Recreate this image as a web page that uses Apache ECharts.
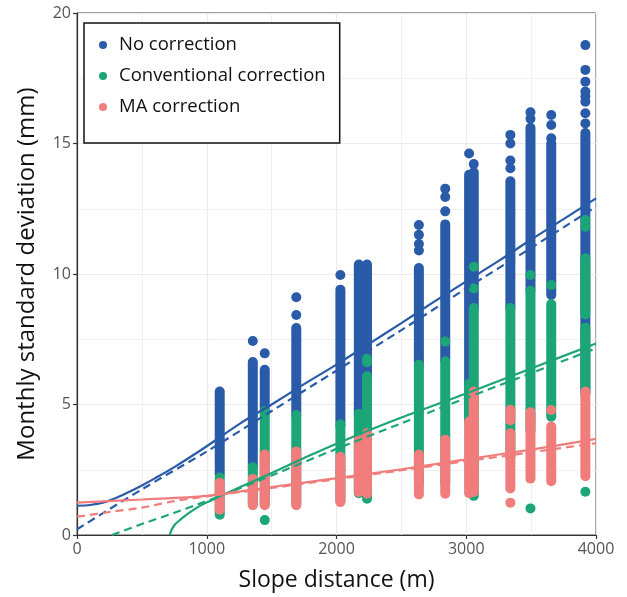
<!DOCTYPE html>
<html>
<head>
<meta charset="utf-8">
<script src="https://cdn.jsdelivr.net/npm/echarts@6/dist/echarts.min.js"></script>
<style>
html,body{margin:0;padding:0;background:#fff;}
#chart{width:627px;height:597px;}
</style>
</head>
<body>
<div id="chart"></div>
<script>
// ---- Data ----
const seriesNames = ['No correction', 'Conventional correction', 'MA correction'];
const xTicks = [0, 1000, 2000, 3000, 4000];
const yTicks = [0, 5, 10, 15, 20];

// dense columns of points: [slope distance, lowest value, highest value]
const noCorrSegments = [
  [1100, 2.3, 5.5], [1355, 2.6, 6.63], [1447, 4.7, 6.33], [1690, 4.6, 7.93],
  [2030, 4.2, 9.4], [2172, 4.6, 10.36], [2235, 6.0, 10.36], [2635, 6.5, 10.23],
  [2838, 6.7, 11.9], [3022, 4.4, 13.8], [3058, 8.7, 13.9], [3340, 8.7, 13.55],
  [3495, 9.36, 15.6], [3655, 9.2, 15.0], [3918, 5.5, 15.4]
];
// isolated points: [slope distance, value]
const noCorrPoints = [
  [1355, 7.43], [1447, 6.96], [1690, 9.11], [1690, 8.43], [2030, 9.96],
  [2635, 11.88], [2635, 11.5], [2635, 11.15], [2635, 10.9],
  [2838, 13.27], [2838, 12.95], [2838, 12.4], [3022, 14.62], [3058, 14.21],
  [3340, 15.33], [3340, 15.0], [3340, 14.35], [3340, 14.05],
  [3495, 16.2], [3495, 15.95], [3655, 16.09], [3655, 15.71], [3655, 15.2],
  [3918, 18.77], [3918, 17.82], [3918, 17.37], [3918, 16.99], [3918, 16.8],
  [3918, 16.6], [3918, 16.16], [3918, 15.77]
];
const convSegments = [
  [1100, 0.78, 2.2], [1355, 1.2, 2.6], [1447, 1.2, 4.74], [1690, 1.2, 4.6],
  [2030, 1.3, 4.23], [2172, 1.6, 4.64], [2235, 1.39, 6.08], [2235, 6.62, 6.75],
  [2635, 2.0, 6.52], [2838, 2.0, 6.65], [3022, 4.4, 5.8], [3058, 1.5, 8.7],
  [3340, 3.0, 8.7], [3495, 4.0, 9.36], [3655, 4.53, 8.85],
  [3918, 5.4, 7.95], [3918, 8.45, 10.6]
];
const convPoints = [
  [1447, 0.57], [2838, 7.41], [3058, 10.28], [3058, 9.45],
  [3495, 9.96], [3495, 1.02], [3655, 9.58],
  [3918, 12.07], [3918, 11.81], [3918, 1.66]
];
const maSegments = [
  [1100, 0.97, 2.0], [1355, 1.14, 2.15], [1447, 1.14, 3.08], [1690, 1.14, 3.2],
  [2030, 1.26, 3.0], [2172, 1.65, 3.65], [2235, 1.58, 3.9], [2635, 1.55, 3.08],
  [2838, 1.58, 3.65], [3022, 1.6, 4.35], [3058, 1.65, 5.5],
  [3340, 1.78, 3.9], [3340, 4.4, 4.8], [3495, 2.16, 4.7], [3655, 2.06, 4.16],
  [3918, 2.25, 5.5]
];
const maPoints = [[3340, 1.24], [3655, 4.79]];

// fitted curves: [slope distance, value]
const noCorrFit = [
  [0, 1.12], [100, 1.15], [200, 1.24], [300, 1.42], [400, 1.65], [500, 1.9],
  [600, 2.17], [750, 2.6], [1000, 3.4], [1250, 4.25], [1500, 5.0], [1750, 5.78],
  [2000, 6.53], [2250, 7.32], [2500, 8.12], [2750, 8.93], [3000, 9.72],
  [3250, 10.5], [3500, 11.32], [3750, 12.1], [4000, 12.9]
];
const noCorrFitDashed = [
  [0, 0.22], [500, 1.75], [1000, 3.2], [1500, 4.75], [2000, 6.3],
  [2500, 7.85], [3000, 9.45], [3500, 11.0], [4000, 12.58]
];
const convFit = [
  [715, 0], [725, 0.15], [740, 0.3], [760, 0.43], [800, 0.6], [850, 0.8],
  [925, 1.05], [1000, 1.25], [1100, 1.48], [1250, 1.82], [1500, 2.38],
  [1750, 2.95], [2000, 3.5], [2500, 4.5], [3000, 5.42], [3500, 6.38], [4000, 7.34]
];
const convFitDashed = [
  [270, 0], [500, 0.42], [750, 0.85], [1000, 1.3], [1250, 1.78], [1500, 2.28],
  [2000, 3.3], [2500, 4.28], [3000, 5.25], [3500, 6.2], [4000, 7.15]
];
const maFit = [
  [0, 1.24], [500, 1.36], [1000, 1.5], [1500, 1.84], [2000, 2.18],
  [2500, 2.52], [3000, 2.9], [3500, 3.27], [4000, 3.68]
];
const maFitDashed = [
  [0, 0.7], [250, 0.88], [500, 1.05], [750, 1.3], [1000, 1.48], [1500, 1.8],
  [2000, 2.14], [2500, 2.48], [3000, 2.83], [3500, 3.17], [4000, 3.52]
];

// ---- Styling ----
const COLORS = ['#2a5ba8', '#1ca677', '#f07c7c'];
const FONT = '"Open Sans", "Noto Sans", sans-serif';
const DOT = 10;

function segSeries(name, data, color) {
  return {
    name: name, type: 'custom', data: data, silent: true,
    itemStyle: { color: color },
    encode: { x: 0, y: [1, 2] },
    renderItem: function (params, api) {
      const p1 = api.coord([api.value(0), api.value(1)]);
      const p2 = api.coord([api.value(0), api.value(2)]);
      return {
        type: 'line',
        shape: { x1: p1[0], y1: p1[1], x2: p2[0], y2: p2[1] },
        style: { stroke: color, lineWidth: DOT, lineCap: 'round', fill: null }
      };
    }
  };
}
function ptSeries(name, data, color) {
  return {
    name: name, type: 'scatter', data: data, symbol: 'circle', symbolSize: DOT,
    itemStyle: { color: color, opacity: 1 }, silent: true
  };
}
function lineSeries(data, color, dashed) {
  return {
    name: 'fit', type: 'line', data: data, showSymbol: false, smooth: 0.3,
    silent: true, z: 5,
    lineStyle: { color: color, width: 2.2, type: dashed ? [8, 5] : 'solid' }
  };
}

const chart = echarts.init(document.getElementById('chart'), null, { renderer: 'canvas' });
chart.setOption({
  animation: false,
  backgroundColor: '#ffffff',
  textStyle: { fontFamily: FONT },
  grid: { left: 77, top: 13, width: 519, height: 522, show: true, borderColor: '#444', borderWidth: 1, backgroundColor: 'transparent' },
  legend: {
    data: seriesNames.map(n => ({ name: n, icon: 'circle' })),
    orient: 'vertical', left: 84, top: 23,
    itemWidth: 8, itemHeight: 8, itemGap: 11,
    padding: [12, 14, 26, 15],
    borderColor: '#111', borderWidth: 1.5, backgroundColor: '#fff',
    textStyle: { fontFamily: FONT, fontSize: 18.5, color: '#111', lineHeight: 20, padding: [0, 0, 0, 7] },
    selectedMode: false
  },
  xAxis: {
    type: 'value', min: xTicks[0], max: xTicks[xTicks.length - 1], interval: 1000,
    name: 'Slope distance (m)', nameLocation: 'middle', nameGap: 34,
    nameTextStyle: { fontFamily: FONT, fontSize: 23, color: '#111' },
    axisLine: { show: true, onZero: false, lineStyle: { color: '#333', width: 1.2 } },
    axisTick: { show: true, length: 4, lineStyle: { color: '#333', width: 1.2 } },
    axisLabel: { fontFamily: FONT, fontSize: 16, color: '#555', margin: 6, formatter: v => String(v) },
    splitLine: { show: true, lineStyle: { color: '#ebebeb', width: 1.2 } },
    minorTick: { show: false, splitNumber: 2 },
    minorSplitLine: { show: true, lineStyle: { color: '#f0f0f0', width: 1 } }
  },
  yAxis: {
    type: 'value', min: yTicks[0], max: yTicks[yTicks.length - 1], interval: 5,
    name: 'Monthly standard deviation (mm)', nameLocation: 'middle', nameGap: 38,
    nameTextStyle: { fontFamily: FONT, fontSize: 24, color: '#111' },
    axisLine: { show: true, onZero: false, lineStyle: { color: '#333', width: 1.2 } },
    axisTick: { show: true, length: 4, lineStyle: { color: '#333', width: 1.2 } },
    axisLabel: { fontFamily: FONT, fontSize: 16, color: '#555', margin: 6, formatter: v => String(v) },
    splitLine: { show: true, lineStyle: { color: '#ebebeb', width: 1.2 } },
    minorTick: { show: false, splitNumber: 2 },
    minorSplitLine: { show: true, lineStyle: { color: '#f0f0f0', width: 1 } }
  },
  series: [
    ptSeries(seriesNames[0], noCorrPoints, COLORS[0]),
    segSeries(seriesNames[0], noCorrSegments, COLORS[0]),
    ptSeries(seriesNames[1], convPoints, COLORS[1]),
    segSeries(seriesNames[1], convSegments, COLORS[1]),
    ptSeries(seriesNames[2], maPoints, COLORS[2]),
    segSeries(seriesNames[2], maSegments, COLORS[2]),
    lineSeries(noCorrFit, COLORS[0], false),
    lineSeries(noCorrFitDashed, COLORS[0], true),
    lineSeries(convFit, COLORS[1], false),
    lineSeries(convFitDashed, COLORS[1], true),
    lineSeries(maFit, COLORS[2], false),
    lineSeries(maFitDashed, COLORS[2], true)
  ]
});
</script>
</body>
</html>
